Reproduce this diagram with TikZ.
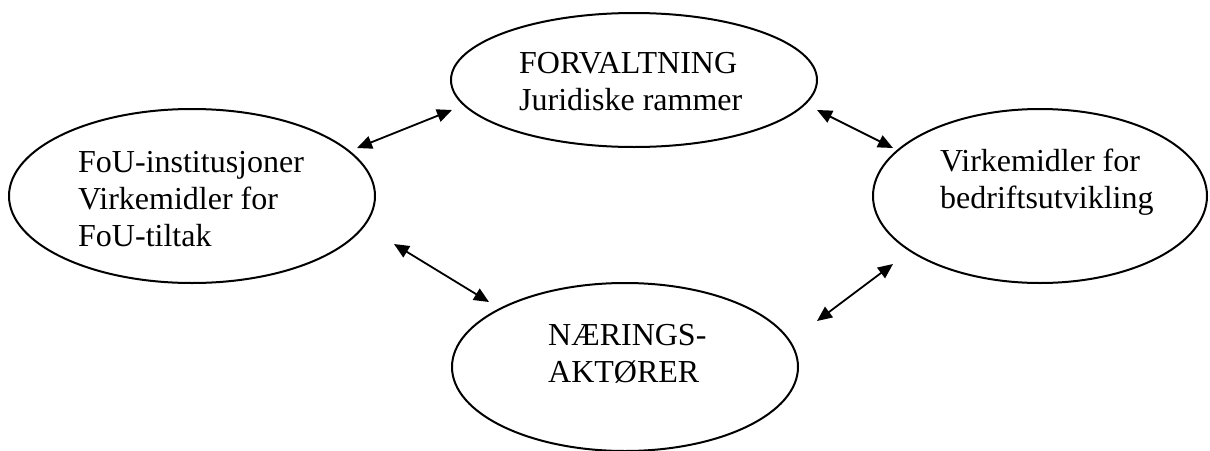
\documentclass[tikz,border=0pt]{standalone}
\usepackage{fontspec}
\setmainfont{Liberation Serif}
\usetikzlibrary{shapes.geometric,arrows.meta}
\begin{document}
\begin{tikzpicture}[x=1pt,y=-1pt,
	oval/.style={draw,ellipse,line width=2pt,inner sep=0pt},
	txt/.style={anchor=base west,align=left,inner sep=0pt,font=\fontsize{32}{37}\selectfont},
	link/.style={{Triangle[length=15pt,width=13pt]}-{Triangle[length=15pt,width=13pt]},line width=1.8pt}]
	\useasboundingbox (0,0) rectangle (1210,450);
	% ellipses
	\node[oval,minimum width=366pt,minimum height=174pt] (fou) at (192,196) {};
	\node[oval,minimum width=366pt,minimum height=134pt] (forv) at (634,80) {};
	\node[oval,minimum width=334pt,minimum height=174pt] (virk) at (1040,196) {};
	\node[oval,minimum width=346pt,minimum height=168pt] (naer) at (625,367) {};
	% texts (base = last line)
	\node[txt] (fouText) at (78,246) {FoU-institusjoner\\Virkemidler for\\FoU-tiltak};
	\node[txt] (forvText) at (519,110) {FORVALTNING\\Juridiske rammer};
	\node[txt] (virkText) at (940,208) {Virkemidler for\\bedriftsutvikling};
	\node[txt] (naerText) at (548,382) {NÆRINGS-\\AKTØRER};
	% arrow ends
	\coordinate (fouForvA) at (357,148); \coordinate (fouForvB) at (452,110);
	\coordinate (forvVirkA) at (817,110); \coordinate (forvVirkB) at (893,148);
	\coordinate (fouNaerA) at (394,244); \coordinate (fouNaerB) at (489,302);
	\coordinate (virkNaerA) at (893,264); \coordinate (virkNaerB) at (817,321);
	\draw[link] (fouForvA) -- (fouForvB);
	\draw[link] (forvVirkA) -- (forvVirkB);
	\draw[link] (fouNaerA) -- (fouNaerB);
	\draw[link] (virkNaerA) -- (virkNaerB);
\end{tikzpicture}
\end{document}
